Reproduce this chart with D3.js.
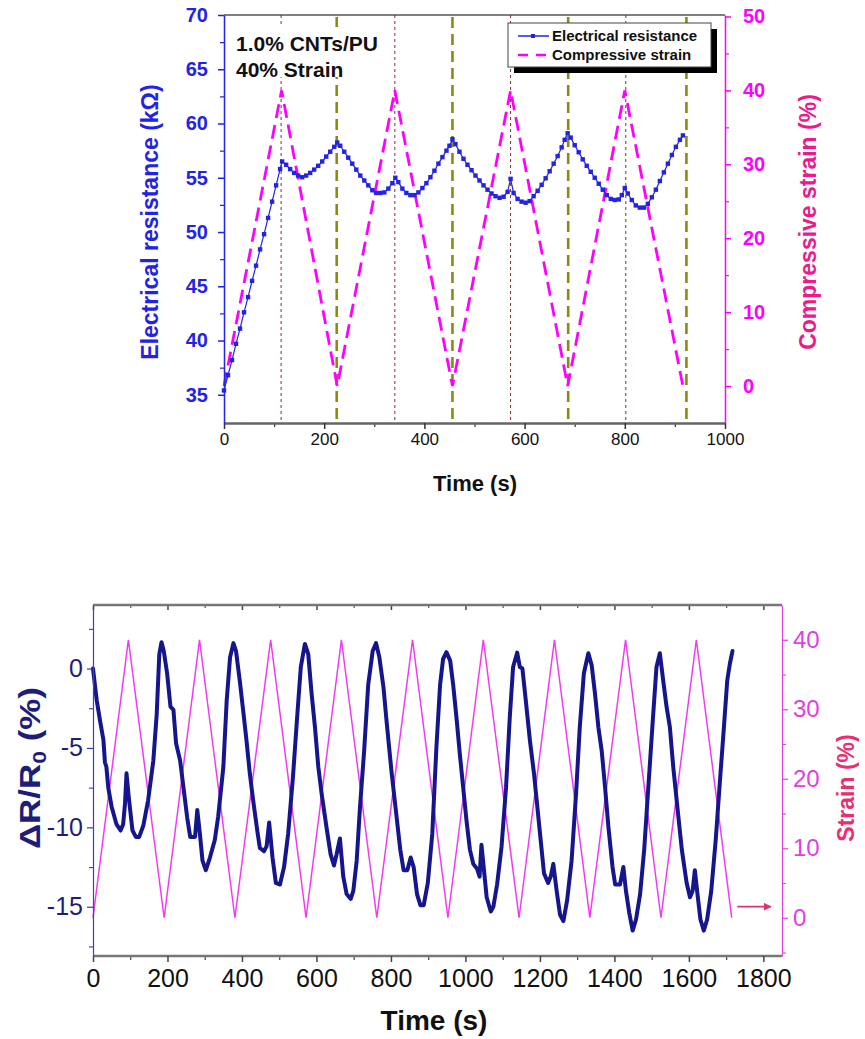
<!DOCTYPE html>
<html><head><meta charset="utf-8">
<script src="https://cdn.jsdelivr.net/npm/d3@7"></script>
<style>
body{margin:0;background:#fff}
svg{display:block}
text{font-family:"Liberation Sans",Arial,Helvetica,sans-serif}
</style>
</head><body>
<svg id="chart" width="865" height="1039"></svg>
<script>
// ---------- Panel 1: 1.0% CNTs/PU under 40% cyclic compression ----------
const resTime = [0,8,16,24,32,40,48,56,64,72,80,88,96,104,112,116,124,132,140,148,156,164,172,180,188,196,204,212,220,226,
  232,240,248,256,264,272,280,288,296,304,312,320,328,336,342,348,356,364,372,380,388,396,404,412,420,428,436,444,450,456,
  462,470,478,486,494,502,510,518,526,534,542,550,558,566,572,578,586,594,602,610,618,626,634,642,650,658,666,674,680,686,
  692,700,708,716,724,732,740,748,756,764,772,780,788,794,800,806,814,822,830,838,846,854,862,870,878,886,894,902,910,916];
const resValue = [35.4,36.8,38.2,39.7,41.1,42.6,44.0,45.5,46.9,48.4,49.8,51.3,52.8,54.3,55.8,56.5,56.2,55.8,55.45,55.2,55.05,55.2,55.45,55.75,56.1,56.5,56.95,57.4,57.85,58.25,
  57.95,57.4,56.85,56.3,55.75,55.2,54.75,54.3,53.85,53.6,53.6,53.65,54.0,54.5,55.0,54.6,54.0,53.6,53.4,53.4,53.65,54.05,54.5,55.05,55.65,56.3,56.9,57.5,57.95,58.55,
  58.1,57.4,56.75,56.2,55.7,55.2,54.75,54.3,53.9,53.55,53.3,53.15,53.25,53.7,54.9,53.6,53.05,52.8,52.7,52.85,53.3,53.8,54.35,54.95,55.6,56.3,57.0,57.8,58.5,59.1,
  58.7,58.0,57.35,56.7,56.1,55.55,55.0,54.45,53.9,53.4,53.05,52.95,53.0,53.4,54.05,53.55,52.95,52.45,52.25,52.25,52.6,53.2,53.9,54.7,55.5,56.3,57.1,57.85,58.5,58.9];
const strainTime = [0,115,226,341,456,572,686,800,916];
const strainValue = [0,40,0,40,0,40,0,40,0];
const peakTimes = [114,341,572,802];     // loading ends (max strain)
const valleyTimes = [225,456,687,923];   // unloading ends (zero strain)
const topXTicks = [0,200,400,600,800,1000];
const topLeftTicks = [35,40,45,50,55,60,65,70];
const topRightTicks = [0,10,20,30,40,50];

// ---------- Panel 2: long-term cycling, ΔR/R0 and strain ----------
const drTime = [0,5,10,19,28,32,36,41,50,63,74,81,86,90,96,106,115,124,135,148,162,171,178,184,190,199,208,216,223,234,
  243,253,261,274,280,287,294,303,314,327,336,350,359,368,377,384,394,403,412,421,430,441,448,459,466,473,482,491,502,513,
  524,537,548,558,569,578,587,596,605,614,627,638,647,654,663,672,681,692,699,708,717,728,739,751,760,769,780,789,802,814,
  825,834,844,853,861,870,879,888,899,911,922,932,940,949,959,967,976,985,994,1003,1012,1021,1031,1038,1043,1049,1057,1068,1075,1085,
  1097,1109,1119,1128,1139,1146,1153,1162,1173,1184,1193,1202,1211,1222,1229,1236,1245,1254,1263,1273,1285,1297,1307,1318,1330,1339,1348,1357,1366,1375,
  1384,1395,1402,1415,1424,1431,1440,1449,1458,1469,1480,1491,1503,1513,1522,1531,1540,1549,1558,1569,1581,1594,1603,1610,1616,1623,1631,1640,1649,1660,
  1672,1683,1694,1703,1710,1717];
const drValue = [0,-1.0,-2.0,-3.3,-4.5,-5.9,-6.2,-7.5,-8.7,-9.8,-10.2,-9.8,-8.5,-6.6,-8.1,-10.2,-10.6,-10.6,-9.9,-8.3,-5.8,-2.9,0.9,1.66,1.1,-0.3,-2.4,-2.6,-4.7,-5.8,
  -7.5,-9.4,-10.6,-10.6,-8.9,-10.4,-12.1,-12.7,-11.9,-10.8,-9.35,-6.2,-2.0,0.7,1.6,1.1,-0.75,-2.6,-4.5,-6.6,-8.3,-10.2,-11.3,-11.5,-11.2,-9.7,-11.9,-13.5,-13.6,-12.5,
  -10.4,-6.8,-3.1,0.1,1.55,0.9,-1.6,-3.7,-6.2,-7.9,-10.0,-11.7,-12.4,-11.7,-10.7,-13.1,-14.2,-14.5,-14.0,-12.1,-8.7,-5.2,-1.0,1.1,1.6,0.7,-1.2,-3.5,-6.6,-9.1,
  -11.4,-12.7,-12.7,-11.9,-12.5,-14.2,-14.9,-14.9,-13.5,-10.4,-5.0,-1.0,0.6,1.03,0.5,-1.0,-3.1,-5.4,-7.5,-9.6,-11.4,-12.3,-12.6,-13.1,-11.1,-12.5,-14.4,-15.3,-15.0,-13.6,
  -11.2,-7.5,-3.1,0.1,1.0,0.1,0.0,-2.0,-4.5,-6.6,-8.7,-10.8,-12.9,-13.5,-13.1,-12.3,-14.0,-15.5,-15.9,-14.6,-12.1,-7.9,-3.7,-0.3,0.96,0.2,-1.6,-3.7,-5.2,-7.5,
  -10.0,-12.5,-13.6,-13.6,-12.5,-14.0,-15.4,-16.5,-15.8,-14.2,-11.4,-7.5,-3.3,0.1,0.96,-0.75,-2.4,-3.7,-6.2,-8.7,-11.4,-13.5,-14.4,-14.0,-12.7,-14.2,-15.8,-16.5,-15.8,-14.0,
  -10.8,-7.2,-3.7,-0.75,0.3,1.1];
const cycleTime = [0,95,191,286,381,477,572,667,762,858,953,1048,1144,1239,1334,1430,1525,1620,1715];
const cycleStrain = [0,40,0,40,0,40,0,40,0,40,0,40,0,40,0,40,0,40,0];
const botXTicks = [0,200,400,600,800,1000,1200,1400,1600,1800];
const botLeftTicks = [-15,-10,-5,0];
const botRightTicks = [0,10,20,30,40];

const svg = d3.select("#chart");

// Styles an axis group: domain line, tick lines and labels
function styleAxis(g, lineColor, lineWidth, tickColor, textColor, fontSize, weight) {
  g.select(".domain").attr("stroke", lineColor).attr("stroke-width", lineWidth);
  g.selectAll(".tick line").attr("stroke", tickColor).attr("stroke-width", Math.min(lineWidth, 1.5));
  g.selectAll(".tick text").attr("fill", textColor).attr("font-size", fontSize)
    .attr("font-weight", weight).attr("font-family", '"Liberation Sans",Arial,sans-serif');
}
function minorTicks(g, axis, values, color, width) {
  g.call(axis.tickValues(values).tickFormat(""));
  g.select(".domain").remove();
  g.selectAll(".tick line").attr("stroke", color).attr("stroke-width", width);
}

// ================= Panel 1 =================
const x1 = d3.scaleLinear([0, 1000], [224, 725]);
const yL1 = d3.scaleLinear([32.4, 70], [423, 15]);
const yR1 = d3.scaleLinear([-5, 50.2], [423, 15]);
const blue1 = "#2323e6";
const magenta = "#ff00ff";

const p1 = svg.append("g");

// frame top line
p1.append("line").attr("x1", x1(0)).attr("x2", x1(1000)).attr("y1", 15).attr("y2", 15)
  .attr("stroke", "#555").attr("stroke-width", 1.5);

// guide lines at strain extremes
p1.selectAll(".peak").data(peakTimes).join("line")
  .attr("x1", d => x1(d)).attr("x2", d => x1(d)).attr("y1", 15).attr("y2", 423)
  .attr("stroke", "#8c2a2a").attr("stroke-width", 1).attr("stroke-dasharray", "3,3");
p1.selectAll(".valley").data(valleyTimes).join("line")
  .attr("x1", d => x1(d)).attr("x2", d => x1(d)).attr("y1", 17).attr("y2", 423)
  .attr("stroke", "#8a8a14").attr("stroke-width", 2.6).attr("stroke-dasharray", "11,6");

// compressive strain (dashed)
const strainPts = strainTime.map((t, i) => [t, strainValue[i]]);
p1.append("path").datum(strainPts)
  .attr("d", d3.line().x(d => x1(d[0])).y(d => yR1(d[1])))
  .attr("fill", "none").attr("stroke", magenta).attr("stroke-width", 2.8)
  .attr("stroke-dasharray", "14,7");

// electrical resistance (line + square markers)
const resPts = resTime.map((t, i) => [t, resValue[i]]);
p1.append("path").datum(resPts)
  .attr("d", d3.line().x(d => x1(d[0])).y(d => yL1(d[1])))
  .attr("fill", "none").attr("stroke", blue1).attr("stroke-width", 1.2);
p1.selectAll(".mk").data(resPts).join("rect")
  .attr("x", d => x1(d[0]) - 2.2).attr("y", d => yL1(d[1]) - 2.2)
  .attr("width", 4.4).attr("height", 4.4).attr("fill", blue1);

// sample annotation
p1.append("rect").attr("x", 229).attr("y", 27).attr("width", 155).attr("height", 50).attr("fill", "#fff");
p1.append("text").attr("x", 236).attr("y", 51).attr("font-size", 21).attr("font-weight", "bold")
  .attr("fill", "#111").text("1.0% CNTs/PU");
p1.append("text").attr("x", 236).attr("y", 77).attr("font-size", 21).attr("font-weight", "bold")
  .attr("fill", "#111").text("40% Strain");

// legend
const lg = p1.append("g");
lg.append("rect").attr("x", 514).attr("y", 29).attr("width", 203).attr("height", 44).attr("fill", "#000");
lg.append("rect").attr("x", 508).attr("y", 23).attr("width", 203).attr("height", 44)
  .attr("fill", "#fff").attr("stroke", "#444").attr("stroke-width", 1);
lg.append("line").attr("x1", 518).attr("x2", 549).attr("y1", 36).attr("y2", 36)
  .attr("stroke", blue1).attr("stroke-width", 1.5);
lg.append("rect").attr("x", 531).attr("y", 34).attr("width", 4).attr("height", 4).attr("fill", blue1);
lg.append("line").attr("x1", 518).attr("x2", 549).attr("y1", 55).attr("y2", 55)
  .attr("stroke", magenta).attr("stroke-width", 2.6).attr("stroke-dasharray", "10,8");
lg.append("text").attr("x", 552).attr("y", 41).attr("font-size", 15).attr("font-weight", "bold")
  .attr("fill", "#111").text("Electrical resistance");
lg.append("text").attr("x", 552).attr("y", 60).attr("font-size", 15).attr("font-weight", "bold")
  .attr("fill", "#111").text("Compressive strain");

// axes
const ax1b = p1.append("g").attr("transform", "translate(0,423)");
minorTicks(ax1b.append("g"), d3.axisBottom(x1).tickSize(4), [100,300,500,700,900], "#333", 1.2);
const ax1bMain = ax1b.append("g").call(d3.axisBottom(x1).tickValues(topXTicks).tickFormat(d3.format("d"))
  .tickSize(6).tickSizeOuter(0).tickPadding(4));
styleAxis(ax1bMain, "#666", 2.5, "#333", "#111", 17, "normal");

const ax1l = p1.append("g").attr("transform", "translate(224,0)");
minorTicks(ax1l.append("g"), d3.axisLeft(yL1).tickSize(4), [37.5,42.5,47.5,52.5,57.5,62.5,67.5], blue1, 1.2);
const ax1lMain = ax1l.append("g").call(d3.axisLeft(yL1).tickValues(topLeftTicks).tickSize(6).tickSizeOuter(0).tickPadding(10));
styleAxis(ax1lMain, blue1, 1.5, blue1, blue1, 20, "bold");

const ax1r = p1.append("g").attr("transform", "translate(725,0)");
minorTicks(ax1r.append("g"), d3.axisRight(yR1).tickSize(4), [5,15,25,35,45], magenta, 1.2);
const ax1rMain = ax1r.append("g").call(d3.axisRight(yR1).tickValues(topRightTicks).tickSize(6).tickSizeOuter(0).tickPadding(12));
styleAxis(ax1rMain, magenta, 1.5, magenta, magenta, 20, "bold");

p1.append("text").attr("transform", "translate(158,222) rotate(-90)").attr("text-anchor", "middle")
  .attr("font-size", 23).attr("font-weight", "bold").attr("fill", blue1).text("Electrical resistance (kΩ)");
p1.append("text").attr("transform", "translate(816,222) rotate(-90)").attr("text-anchor", "middle")
  .attr("font-size", 23).attr("font-weight", "bold").attr("fill", "#ec1a8c").text("Compressive strain (%)");
p1.append("text").attr("x", 475).attr("y", 491).attr("text-anchor", "middle")
  .attr("font-size", 22).attr("font-weight", "bold").attr("fill", "#111").text("Time (s)");

// ================= Panel 2 =================
const x2 = d3.scaleLinear([0, 1850], [93, 782]);
const yL2 = d3.scaleLinear([-18.1, 4], [956, 605]);
const yR2 = d3.scaleLinear([-5.5, 45], [956, 605]);
const navy = "#16168c";
const pink2 = "#f03cf0";

const p2 = svg.append("g");

// strain triangle wave
const cyclePts = cycleTime.map((t, i) => [t, cycleStrain[i]]);
p2.append("path").datum(cyclePts)
  .attr("d", d3.line().x(d => x2(d[0])).y(d => yR2(d[1])))
  .attr("fill", "none").attr("stroke", pink2).attr("stroke-width", 1.5);

// relative resistance change
const drPts = drTime.map((t, i) => [t, drValue[i]]);
p2.append("path").datum(drPts)
  .attr("d", d3.line().x(d => x2(d[0])).y(d => yL2(d[1])))
  .attr("fill", "none").attr("stroke", navy).attr("stroke-width", 4)
  .attr("stroke-linejoin", "round").attr("stroke-linecap", "round");

// top frame with inward ticks
const ax2t = p2.append("g").attr("transform", "translate(0,605)");
minorTicks(ax2t.append("g"), d3.axisBottom(x2).tickSize(3), [100,300,500,700,900,1100,1300,1500,1700], "#555", 1.2);
const ax2tMain = ax2t.append("g").call(d3.axisBottom(x2).tickValues(botXTicks).tickFormat("").tickSize(5).tickSizeOuter(0));
ax2tMain.select(".domain").remove();
ax2tMain.selectAll(".tick line").attr("stroke", "#444").attr("stroke-width", 1.5);
p2.append("line").attr("x1", 93).attr("x2", 782).attr("y1", 605).attr("y2", 605)
  .attr("stroke", "#777").attr("stroke-width", 2.5);

const ax2b = p2.append("g").attr("transform", "translate(0,956)");
minorTicks(ax2b.append("g"), d3.axisBottom(x2).tickSize(4), [100,300,500,700,900,1100,1300,1500,1700], "#444", 1.2);
const ax2bMain = ax2b.append("g").call(d3.axisBottom(x2).tickValues(botXTicks).tickFormat(d3.format("d"))
  .tickSize(6).tickSizeOuter(0).tickPadding(7));
ax2bMain.select(".domain").attr("d", "M93,0H782");
styleAxis(ax2bMain, "#777", 2.5, "#444", "#111", 25, "normal");

const ax2l = p2.append("g").attr("transform", "translate(93,0)");
minorTicks(ax2l.append("g"), d3.axisLeft(yL2).tickSize(4), [-17.5,-12.5,-7.5,-2.5,2.5], "#3a3aa0", 1.1);
const ax2lMain = ax2l.append("g").call(d3.axisLeft(yL2).tickValues(botLeftTicks).tickSize(6).tickSizeOuter(0).tickPadding(4)
  .tickFormat(d3.format("d")));
styleAxis(ax2lMain, "#4040b0", 1.2, "#3a3aa0", "#1e1e78", 25, "normal");
ax2lMain.selectAll(".tick text").text(d => d < 0 ? "-" + Math.abs(d) : d);

const ax2r = p2.append("g").attr("transform", "translate(782,0)");
minorTicks(ax2r.append("g"), d3.axisRight(yR2).tickSize(4), [-5,5,15,25,35], "#e040e0", 1.1);
const ax2rMain = ax2r.append("g").call(d3.axisRight(yR2).tickValues(botRightTicks).tickSize(6).tickSizeOuter(0).tickPadding(5));
styleAxis(ax2rMain, "#e040e0", 1.2, "#e040e0", "#e040e0", 24, "normal");

// arrow pointing at the strain axis
svg.append("defs").append("marker").attr("id", "ah").attr("viewBox", "0 0 10 10")
  .attr("refX", 9).attr("refY", 5).attr("markerWidth", 5).attr("markerHeight", 5).attr("orient", "auto")
  .append("path").attr("d", "M0,0L10,5L0,10z").attr("fill", "#e0306e");
p2.append("line").attr("x1", x2(1730)).attr("x2", x2(1820)).attr("y1", yR2(1.6)).attr("y2", yR2(1.6))
  .attr("stroke", "#e0306e").attr("stroke-width", 1.6).attr("marker-end", "url(#ah)");

// axis titles
const yt = p2.append("text").attr("transform", "translate(40,768) rotate(-90)").attr("text-anchor", "middle")
  .attr("font-size", 29).attr("font-weight", "bold").attr("fill", "#1e1e78")
  .attr("textLength", 162).attr("lengthAdjust", "spacingAndGlyphs");
yt.append("tspan").text("ΔR/R");
yt.append("tspan").attr("font-size", 19).attr("dy", 6).text("0");
yt.append("tspan").attr("dy", -6).text(" (%)");
p2.append("text").attr("transform", "translate(854,788) rotate(-90)").attr("text-anchor", "middle")
  .attr("font-size", 23).attr("font-weight", "bold").attr("fill", "#e8306e").text("Strain (%)");
p2.append("text").attr("x", 434).attr("y", 1030).attr("text-anchor", "middle")
  .attr("font-size", 28).attr("font-weight", "bold").attr("fill", "#111").text("Time (s)");
</script>
</body></html>
